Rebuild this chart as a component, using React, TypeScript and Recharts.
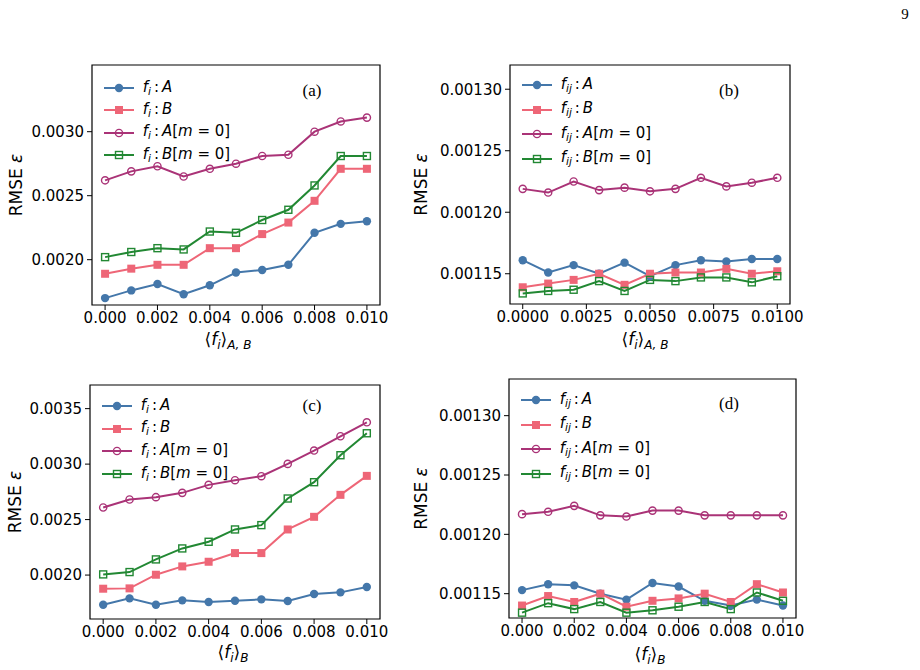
import React from 'react';
import { LineChart, Line, XAxis, YAxis, ReferenceArea, Legend } from 'recharts';

// mean fraction on the x axis, shared by every panel
const fracValues = [0, 0.001, 0.002, 0.003, 0.004, 0.005, 0.006, 0.007, 0.008, 0.009, 0.01];

// (a) site features, varying <f_i>_{A,B}
const aSiteA = [0.0017, 0.00176, 0.00181, 0.00173, 0.0018, 0.0019, 0.00192, 0.00196, 0.00221, 0.00228, 0.0023];
const aSiteB = [0.00189, 0.00193, 0.00196, 0.00196, 0.00209, 0.00209, 0.0022, 0.00229, 0.00246, 0.00271, 0.00271];
const aSiteAm0 = [0.00262, 0.00269, 0.00273, 0.00265, 0.00271, 0.00275, 0.00281, 0.00282, 0.003, 0.00308, 0.00311];
const aSiteBm0 = [0.00202, 0.00206, 0.00209, 0.00208, 0.00222, 0.00221, 0.00231, 0.00239, 0.00258, 0.00281, 0.00281];

// (b) pair features, varying <f_i>_{A,B}
const bPairA = [0.001161, 0.001151, 0.001157, 0.00115, 0.001159, 0.001148, 0.001157, 0.001161, 0.00116, 0.001162, 0.001162];
const bPairB = [0.001139, 0.001142, 0.001145, 0.00115, 0.001141, 0.00115, 0.001151, 0.001151, 0.001154, 0.00115, 0.001152];
const bPairAm0 = [0.001219, 0.001216, 0.001225, 0.001218, 0.00122, 0.001217, 0.001219, 0.001228, 0.001221, 0.001224, 0.001228];
const bPairBm0 = [0.001134, 0.001136, 0.001137, 0.001144, 0.001136, 0.001145, 0.001144, 0.001147, 0.001147, 0.001143, 0.001148];

// (c) site features, varying <f_i>_B
const cSiteA = [0.001733, 0.00179, 0.001733, 0.001772, 0.001757, 0.001769, 0.001781, 0.001766, 0.001829, 0.001844, 0.001892];
const cSiteB = [0.001877, 0.00188, 0.002003, 0.002078, 0.00212, 0.002198, 0.002198, 0.002411, 0.002525, 0.002723, 0.002894];
const cSiteAm0 = [0.002609, 0.002681, 0.002702, 0.002741, 0.002813, 0.002855, 0.002891, 0.003002, 0.003122, 0.003251, 0.003377];
const cSiteBm0 = [0.002006, 0.002027, 0.002141, 0.00224, 0.0023, 0.002411, 0.00245, 0.00269, 0.002837, 0.00308, 0.003278];

// (d) pair features, varying <f_i>_B
const dPairA = [0.001153, 0.001158, 0.001157, 0.00115, 0.001145, 0.001159, 0.001156, 0.001144, 0.00114, 0.001145, 0.00114];
const dPairB = [0.00114, 0.001148, 0.001143, 0.00115, 0.001139, 0.001144, 0.001146, 0.00115, 0.001143, 0.001158, 0.001151];
const dPairAm0 = [0.001217, 0.001219, 0.001224, 0.001216, 0.001215, 0.00122, 0.00122, 0.001216, 0.001216, 0.001216, 0.001216];
const dPairBm0 = [0.001134, 0.001142, 0.001137, 0.001143, 0.001134, 0.001136, 0.001139, 0.001143, 0.001137, 0.001151, 0.001144];

const xTicksMilli = [0, 0.002, 0.004, 0.006, 0.008, 0.01];
const xTicksQuarter = [0, 0.0025, 0.005, 0.0075, 0.01];
const yTicksSiteA = [0.002, 0.0025, 0.003];
const yTicksSiteC = [0.002, 0.0025, 0.003, 0.0035];
const yTicksPair = [0.00115, 0.0012, 0.00125, 0.0013];

type Shape = 'circle' | 'square' | 'ocircle' | 'osquare';

const SERIES: { key: string; color: string; shape: Shape; label: string; m0: boolean }[] = [
  { key: 'a', color: '#4477AA', shape: 'circle', label: 'A', m0: false },
  { key: 'b', color: '#EE6677', shape: 'square', label: 'B', m0: false },
  { key: 'am', color: '#AA3377', shape: 'ocircle', label: 'A', m0: true },
  { key: 'bm', color: '#228833', shape: 'osquare', label: 'B', m0: true },
];

const FONT = 'DejaVu Sans';
const PAD_L = 100;
const PAD_R = 15;
const PAD_T = 15;
const PAD_B = 55;

function Marker({ cx, cy, shape, color }: { cx: number; cy: number; shape: Shape; color: string }) {
  switch (shape) {
    case 'circle':
      return <circle cx={cx} cy={cy} r={4.2} fill={color} />;
    case 'square':
      return <rect x={cx - 4} y={cy - 4} width={8} height={8} fill={color} />;
    case 'ocircle':
      return <circle cx={cx} cy={cy} r={3.6} fill="none" stroke={color} strokeWidth={1.4} />;
    default:
      return <rect x={cx - 3.5} y={cy - 3.5} width={7} height={7} fill="none" stroke={color} strokeWidth={1.4} />;
  }
}

const Sub = ({ children }: { children: React.ReactNode }) => (
  <span style={{ fontSize: '0.7em', verticalAlign: '-0.28em', fontStyle: 'italic' }}>{children}</span>
);

function LegendBox({ sub, rowH }: { sub: string; rowH: number }) {
  return (
    <div style={{ fontFamily: FONT, fontSize: 15, color: '#000', lineHeight: 1 }}>
      {SERIES.map((s) => (
        <div key={s.key} style={{ display: 'flex', alignItems: 'center', height: rowH }}>
          <svg width={30} height={12} style={{ overflow: 'visible' }}>
            <line x1={0} y1={6} x2={30} y2={6} stroke={s.color} strokeWidth={2} />
            <Marker cx={15} cy={6} shape={s.shape} color={s.color} />
          </svg>
          <span style={{ marginLeft: 9, whiteSpace: 'nowrap' }}>
            <i>f</i>
            <Sub>{sub}</Sub>
            {'\u2009:\u2009'}
            <i>{s.label}</i>
            {s.m0 && (
              <>
                [<i>m</i> = 0]
              </>
            )}
          </span>
        </div>
      ))}
    </div>
  );
}

interface PanelSpec {
  tag: string;
  box: { left: number; top: number; w: number; h: number };
  series: number[][];
  yDomain: [number, number];
  yTicks: number[];
  yDigits: number;
  xTicks: number[];
  xDigits: number;
  sub: string;
  xSub: string;
  yTitleDx: number;
  xTitleDx: number;
  xTitleDy: number;
  legendTop: number;
  rowH: number;
  tagPos: { x: number; y: number };
}

const PANELS: PanelSpec[] = [
  {
    tag: '(a)',
    box: { left: 92, top: 65, w: 288, h: 240 },
    series: [aSiteA, aSiteB, aSiteAm0, aSiteBm0],
    yDomain: [0.001646, 0.003521],
    yTicks: yTicksSiteA,
    yDigits: 4,
    xTicks: xTicksMilli,
    xDigits: 3,
    sub: 'i',
    xSub: 'A, B',
    yTitleDx: 76,
    xTitleDx: -8,
    xTitleDy: 40,
    legendTop: 23,
    rowH: 22.3,
    tagPos: { x: 312, y: 90 },
  },
  {
    tag: '(b)',
    box: { left: 510, top: 65, w: 280, h: 239 },
    series: [bPairA, bPairB, bPairAm0, bPairBm0],
    yDomain: [0.0011254, 0.0013197],
    yTicks: yTicksPair,
    yDigits: 5,
    xTicks: xTicksQuarter,
    xDigits: 4,
    sub: 'ij',
    xSub: 'A, B',
    yTitleDx: 89,
    xTitleDx: -5,
    xTitleDy: 41,
    legendTop: 20,
    rowH: 24.5,
    tagPos: { x: 729, y: 90 },
  },
  {
    tag: '(c)',
    box: { left: 90, top: 385, w: 290, h: 234 },
    series: [cSiteA, cSiteB, cSiteAm0, cSiteBm0],
    yDomain: [0.001604, 0.003713],
    yTicks: yTicksSiteC,
    yDigits: 4,
    xTicks: xTicksMilli,
    xDigits: 3,
    sub: 'i',
    xSub: 'B',
    yTitleDx: 75,
    xTitleDx: -2,
    xTitleDy: 39,
    legendTop: 21,
    rowH: 22.7,
    tagPos: { x: 312, y: 405 },
  },
  {
    tag: '(d)',
    box: { left: 509, top: 379, w: 287, h: 239 },
    series: [dPairA, dPairB, dPairAm0, dPairBm0],
    yDomain: [0.0011295, 0.0013309],
    yTicks: yTicksPair,
    yDigits: 5,
    xTicks: xTicksMilli,
    xDigits: 3,
    sub: 'ij',
    xSub: 'B',
    yTitleDx: 88,
    xTitleDx: -2.5,
    xTitleDy: 42,
    legendTop: 21,
    rowH: 24.5,
    tagPos: { x: 729, y: 403 },
  },
];

function Panel({ p }: { p: PanelSpec }) {
  const { box } = p;
  const rows = fracValues.map((x, i) => {
    const row: Record<string, number> = { x };
    SERIES.forEach((s, k) => {
      row[s.key] = p.series[k][i];
    });
    return row;
  });
  const xDomain: [number, number] = [-0.0005, 0.0105];
  const tickStyle = { fontSize: 15, fill: '#000', fontFamily: FONT };

  const yTitle = () => {
    const cx = PAD_L - p.yTitleDx;
    const cy = PAD_T + box.h / 2;
    return (
      <text
        x={cx}
        y={cy}
        transform={`rotate(-90, ${cx}, ${cy})`}
        textAnchor="middle"
        dominantBaseline="central"
        fontFamily={FONT}
        fontSize={17}
        fill="#000"
      >
        RMSE <tspan fontStyle="italic">ε</tspan>
      </text>
    );
  };

  const xTitle = () => (
    <text
      x={PAD_L + box.w / 2 + p.xTitleDx}
      y={PAD_T + box.h + p.xTitleDy}
      textAnchor="middle"
      fontFamily={FONT}
      fontSize={17}
      fill="#000"
    >
      ⟨<tspan fontStyle="italic">f</tspan>
      <tspan fontSize={12} dy={4} fontStyle="italic">i</tspan>
      <tspan dy={-4}>⟩</tspan>
      <tspan fontSize={12} dy={4} fontStyle="italic">{p.xSub}</tspan>
    </text>
  );

  return (
    <>
      <div style={{ position: 'absolute', left: box.left - PAD_L, top: box.top - PAD_T }}>
        <LineChart
          width={PAD_L + box.w + PAD_R}
          height={PAD_T + box.h + PAD_B}
          data={rows}
          margin={{ top: PAD_T, right: PAD_R, bottom: 0, left: 0 }}
        >
          <XAxis
            type="number"
            dataKey="x"
            domain={xDomain}
            allowDataOverflow
            ticks={p.xTicks}
            interval={0}
            height={PAD_B}
            axisLine={false}
            tickLine={{ stroke: '#000', strokeWidth: 1 }}
            tickSize={5}
            tickMargin={2}
            tick={tickStyle}
            tickFormatter={(v: number) => v.toFixed(p.xDigits)}
            label={{ content: xTitle }}
          />
          <YAxis
            type="number"
            domain={p.yDomain}
            allowDataOverflow
            ticks={p.yTicks}
            interval={0}
            width={PAD_L}
            axisLine={false}
            tickLine={{ stroke: '#000', strokeWidth: 1 }}
            tickSize={5}
            tickMargin={3}
            tick={tickStyle}
            tickFormatter={(v: number) => v.toFixed(p.yDigits)}
            label={{ content: yTitle }}
          />
          <ReferenceArea
            x1={xDomain[0]}
            x2={xDomain[1]}
            y1={p.yDomain[0]}
            y2={p.yDomain[1]}
            fill="none"
            fillOpacity={0}
            stroke="#000"
            strokeWidth={1.2}
            ifOverflow="visible"
          />
          {SERIES.map((s) => (
            <Line
              key={s.key}
              type="linear"
              dataKey={s.key}
              stroke={s.color}
              strokeWidth={2}
              isAnimationActive={false}
              activeDot={false}
              dot={(d: any) => (
                <g key={`${s.key}-${d.index}`}>
                  <Marker cx={d.cx} cy={d.cy} shape={s.shape} color={s.color} />
                </g>
              )}
            />
          ))}
          <Legend
            layout="vertical"
            align="center"
            verticalAlign="middle"
            wrapperStyle={{ left: PAD_L + 11.7, top: PAD_T + p.legendTop - p.rowH / 2, width: 'auto', height: 'auto' }}
            content={() => <LegendBox sub={p.sub} rowH={p.rowH} />}
          />
        </LineChart>
      </div>
      <div
        style={{
          position: 'absolute',
          left: p.tagPos.x,
          top: p.tagPos.y,
          transform: 'translate(-50%, -50%)',
          fontFamily: 'Liberation Serif',
          fontSize: 17,
          color: '#000',
          lineHeight: 1,
        }}
      >
        {p.tag}
      </div>
    </>
  );
}

export default function App() {
  return (
    <div style={{ position: 'absolute', left: 0, top: 0, width: 920, height: 670, background: '#fff', overflow: 'hidden' }}>
      {PANELS.map((p) => (
        <Panel key={p.tag} p={p} />
      ))}
      <div
        style={{
          position: 'absolute',
          left: 905,
          top: 14,
          transform: 'translate(-50%, -50%)',
          fontFamily: 'Liberation Serif',
          fontSize: 15,
          color: '#000',
          lineHeight: 1,
        }}
      >
        9
      </div>
    </div>
  );
}
